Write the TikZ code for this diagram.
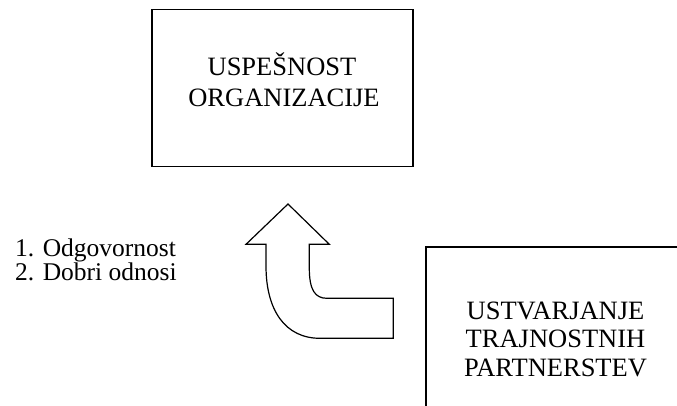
\documentclass[tikz,border=0pt]{standalone}
\usepackage{fontspec}
\setmainfont{Liberation Serif}
\begin{document}
\begin{tikzpicture}[x=1pt,y=-1pt,
  boxstyle/.style={draw=black,line width=1.6pt,rectangle,inner sep=0pt},
  boxtext/.style={align=center,inner sep=0pt,font=\fontsize{26.5}{31.5}\selectfont},
  arrowshape/.style={draw=black,line width=1.2pt,fill=white,line join=miter}]
\useasboundingbox (0,0) rectangle (677,405);
\clip (0,0) rectangle (677,405);
% top box
\node[boxstyle,minimum width=261pt,minimum height=157pt] (org) at (282.5,88) {};
\node[boxtext,anchor=base] (orgt1) at (282,75) {USPEŠNOST};
\node[boxtext,anchor=base] (orgt2) at (284,106.5) {ORGANIZACIJE};
% bottom-right box (cut by the page edge)
\node[boxstyle,minimum width=258pt,minimum height=184pt] (par) at (555,339) {};
\node[boxtext,anchor=base] (part1) at (555.5,319.3) {USTVARJANJE};
\node[boxtext,anchor=base] (part2) at (555.5,347.5) {TRAJNOSTNIH};
\node[boxtext,anchor=base] (part3) at (555.5,376.5) {PARTNERSTEV};
% list
\node[anchor=base west,inner sep=0pt,align=left,font=\fontsize{25.5}{23.5}\selectfont] (lst1) at (15,256.7) {1. Odgovornost};
\node[anchor=base west,inner sep=0pt,align=left,font=\fontsize{25.5}{23.5}\selectfont] (lst2) at (15,280.2) {2. Dobri odnosi};
% bent arrow
\draw[arrowshape] (288,204) -- (329.3,244.3) -- (309.3,244.3) -- (309.3,268)
  .. controls (309.3,290) and (315,298.3) .. (327,298.3) -- (393.3,298.3)
  -- (393.3,338.3) -- (320,338.3)
  .. controls (285,338.3) and (266,310) .. (266,266) -- (266,244.3)
  -- (246,244.3) -- cycle;
\end{tikzpicture}
\end{document}
